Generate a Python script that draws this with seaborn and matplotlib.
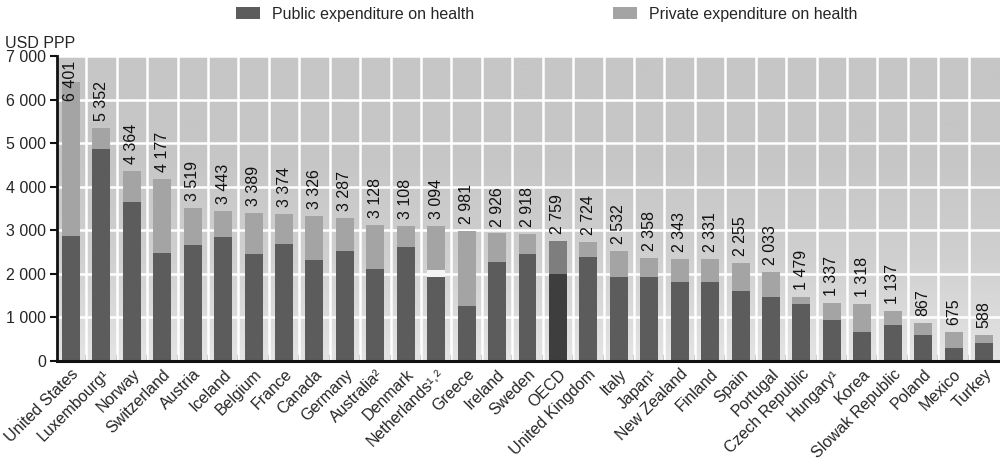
import numpy as np
import pandas as pd
import matplotlib
matplotlib.use("Agg")
import matplotlib.pyplot as plt
from matplotlib.patches import Patch
from matplotlib.colors import LinearSegmentedColormap
from matplotlib.transforms import ScaledTranslation
import seaborn as sns

countries = ["United States", "Luxembourg¹", "Norway", "Switzerland", "Austria", "Iceland",
             "Belgium", "France", "Canada", "Germany", "Australia²", "Denmark",
             "Netherlands¹˒²", "Greece", "Ireland", "Sweden", "OECD", "United Kingdom",
             "Italy", "Japan¹", "New Zealand", "Finland", "Spain", "Portugal",
             "Czech Republic", "Hungary¹", "Korea", "Slowak Republic", "Poland", "Mexico", "Turkey"]
total = [6401, 5352, 4364, 4177, 3519, 3443, 3389, 3374, 3326, 3287, 3128, 3108,
         3094, 2981, 2926, 2918, 2759, 2724, 2532, 2358, 2343, 2331, 2255, 2033,
         1479, 1337, 1318, 1137, 867, 675, 588]
public = [2875, 4870, 3643, 2485, 2669, 2845, 2454, 2692, 2316, 2531, 2109, 2615,
          1925, 1258, 2262, 2454, 2002, 2377, 1917, 1917, 1810, 1810, 1595, 1465,
          1311, 943, 675, 821, 590, 299, 414]
# break between public and private part (Netherlands)
gap = [0] * 12 + [165] + [0] * 18
legend_labels = ["Public expenditure on health", "Private expenditure on health"]

sns.set_theme(style="white")
plt.rcParams["font.family"] = ["Liberation Sans", "DejaVu Sans"]

FS = 11.5
PUB, PRIV = "#5c5c5c", "#a4a4a4"
PUB_O, PRIV_O = "#3e3e3e", "#7e7e7e"

df = pd.DataFrame({"country": countries, "total": total, "public": public, "gap": gap})
n = len(df)
priv_pal = {c: (PRIV_O if c == "OECD" else PRIV) for c in countries}
pub_pal = {c: (PUB_O if c == "OECD" else PUB) for c in countries}

fig = plt.figure(figsize=(10, 4.65), dpi=100)
ax = fig.add_axes([0.057, 0.2237, 0.943, 0.6559])

xlim = (-0.46, n - 1 + 0.526)
ylim = (0, 7000)

# gradient background
cmap = LinearSegmentedColormap.from_list("bg", ["#e4e4e4", "#d0d0d0", "#c6c6c6", "#c6c6c6"])
grad = np.linspace(0, 1, 256).reshape(-1, 1)
ax.imshow(grad, extent=(xlim[0], xlim[1], ylim[0], ylim[1]), origin="lower",
          aspect="auto", cmap=cmap, zorder=0)

W = 0.59
sns.barplot(data=df, x="country", y="total", hue="country", palette=priv_pal,
            legend=False, width=W, saturation=1, ax=ax, zorder=3, linewidth=0)
sns.barplot(data=df, x="country", y="public", hue="country", palette=pub_pal,
            legend=False, width=W, saturation=1, ax=ax, zorder=4, linewidth=0)
idx = np.arange(n)
ax.bar(idx, df["gap"], bottom=df["public"], width=W, color="#f4f4f4", zorder=5, linewidth=0)

ax.set_xlim(*xlim)
ax.set_ylim(*ylim)

# value labels
for i, v in enumerate(total):
    s = f"{v:,}".replace(",", " ")
    if v + 900 > 7000:
        ax.text(i, 6880, s, rotation=90, ha="center", va="top", fontsize=FS, zorder=6, color="#111111")
    else:
        ax.text(i, v + 160, s, rotation=90, ha="center", va="bottom", fontsize=FS, zorder=6, color="#111111")

# grid
ax.set_xticks(idx)
ax.set_xticks(idx[:-1] + 0.5, minor=True)
ax.set_yticks(np.arange(0, 7001, 1000))
ax.set_yticklabels([f"{v:,}".replace(",", " ") for v in range(0, 7001, 1000)], fontsize=FS)
ax.grid(False)
for yv in range(1000, 7001, 1000):
    ax.axhline(yv, color="white", lw=1.8, zorder=1)
for xv in idx[:-1] + 0.5:
    ax.axvline(xv, color="white", lw=1.8, zorder=1)

ax.set_xticklabels(countries, rotation=45, ha="right", va="top", rotation_mode="anchor", fontsize=FS)
offset = ScaledTranslation(9 / 100, 0, fig.dpi_scale_trans)
for lab in ax.get_xticklabels():
    lab.set_transform(lab.get_transform() + offset)

ax.tick_params(axis="x", which="major", length=0, pad=4)
ax.tick_params(axis="x", which="minor", length=4, width=1.2, direction="in", color="#222222", bottom=True)
ax.tick_params(axis="y", length=5, width=1.5, color="#111111", left=True, pad=3)
ax.set_xlabel("")
ax.set_ylabel("")

for sp in ["top", "right"]:
    ax.spines[sp].set_visible(False)
ax.spines["left"].set_color("#111111")
ax.spines["left"].set_linewidth(2)
ax.spines["bottom"].set_color("#111111")
ax.spines["bottom"].set_linewidth(2.2)
ax.spines["left"].set_zorder(7)
ax.spines["bottom"].set_zorder(7)

fig.text(0.005, 1 - 44 / 465, "USD PPP", fontsize=FS, va="center", ha="left")

handles = [Patch(facecolor=PUB, edgecolor="none"), Patch(facecolor=PRIV, edgecolor="none")]
fig.legend(handles, legend_labels, loc="center", bbox_to_anchor=(0.547, 1 - 14 / 465),
           ncol=2, frameon=False, fontsize=FS, handlelength=1.5, handleheight=0.75,
           handletextpad=0.75, columnspacing=8.7, borderaxespad=0, borderpad=0)

fig.savefig("out.png", dpi=100)
